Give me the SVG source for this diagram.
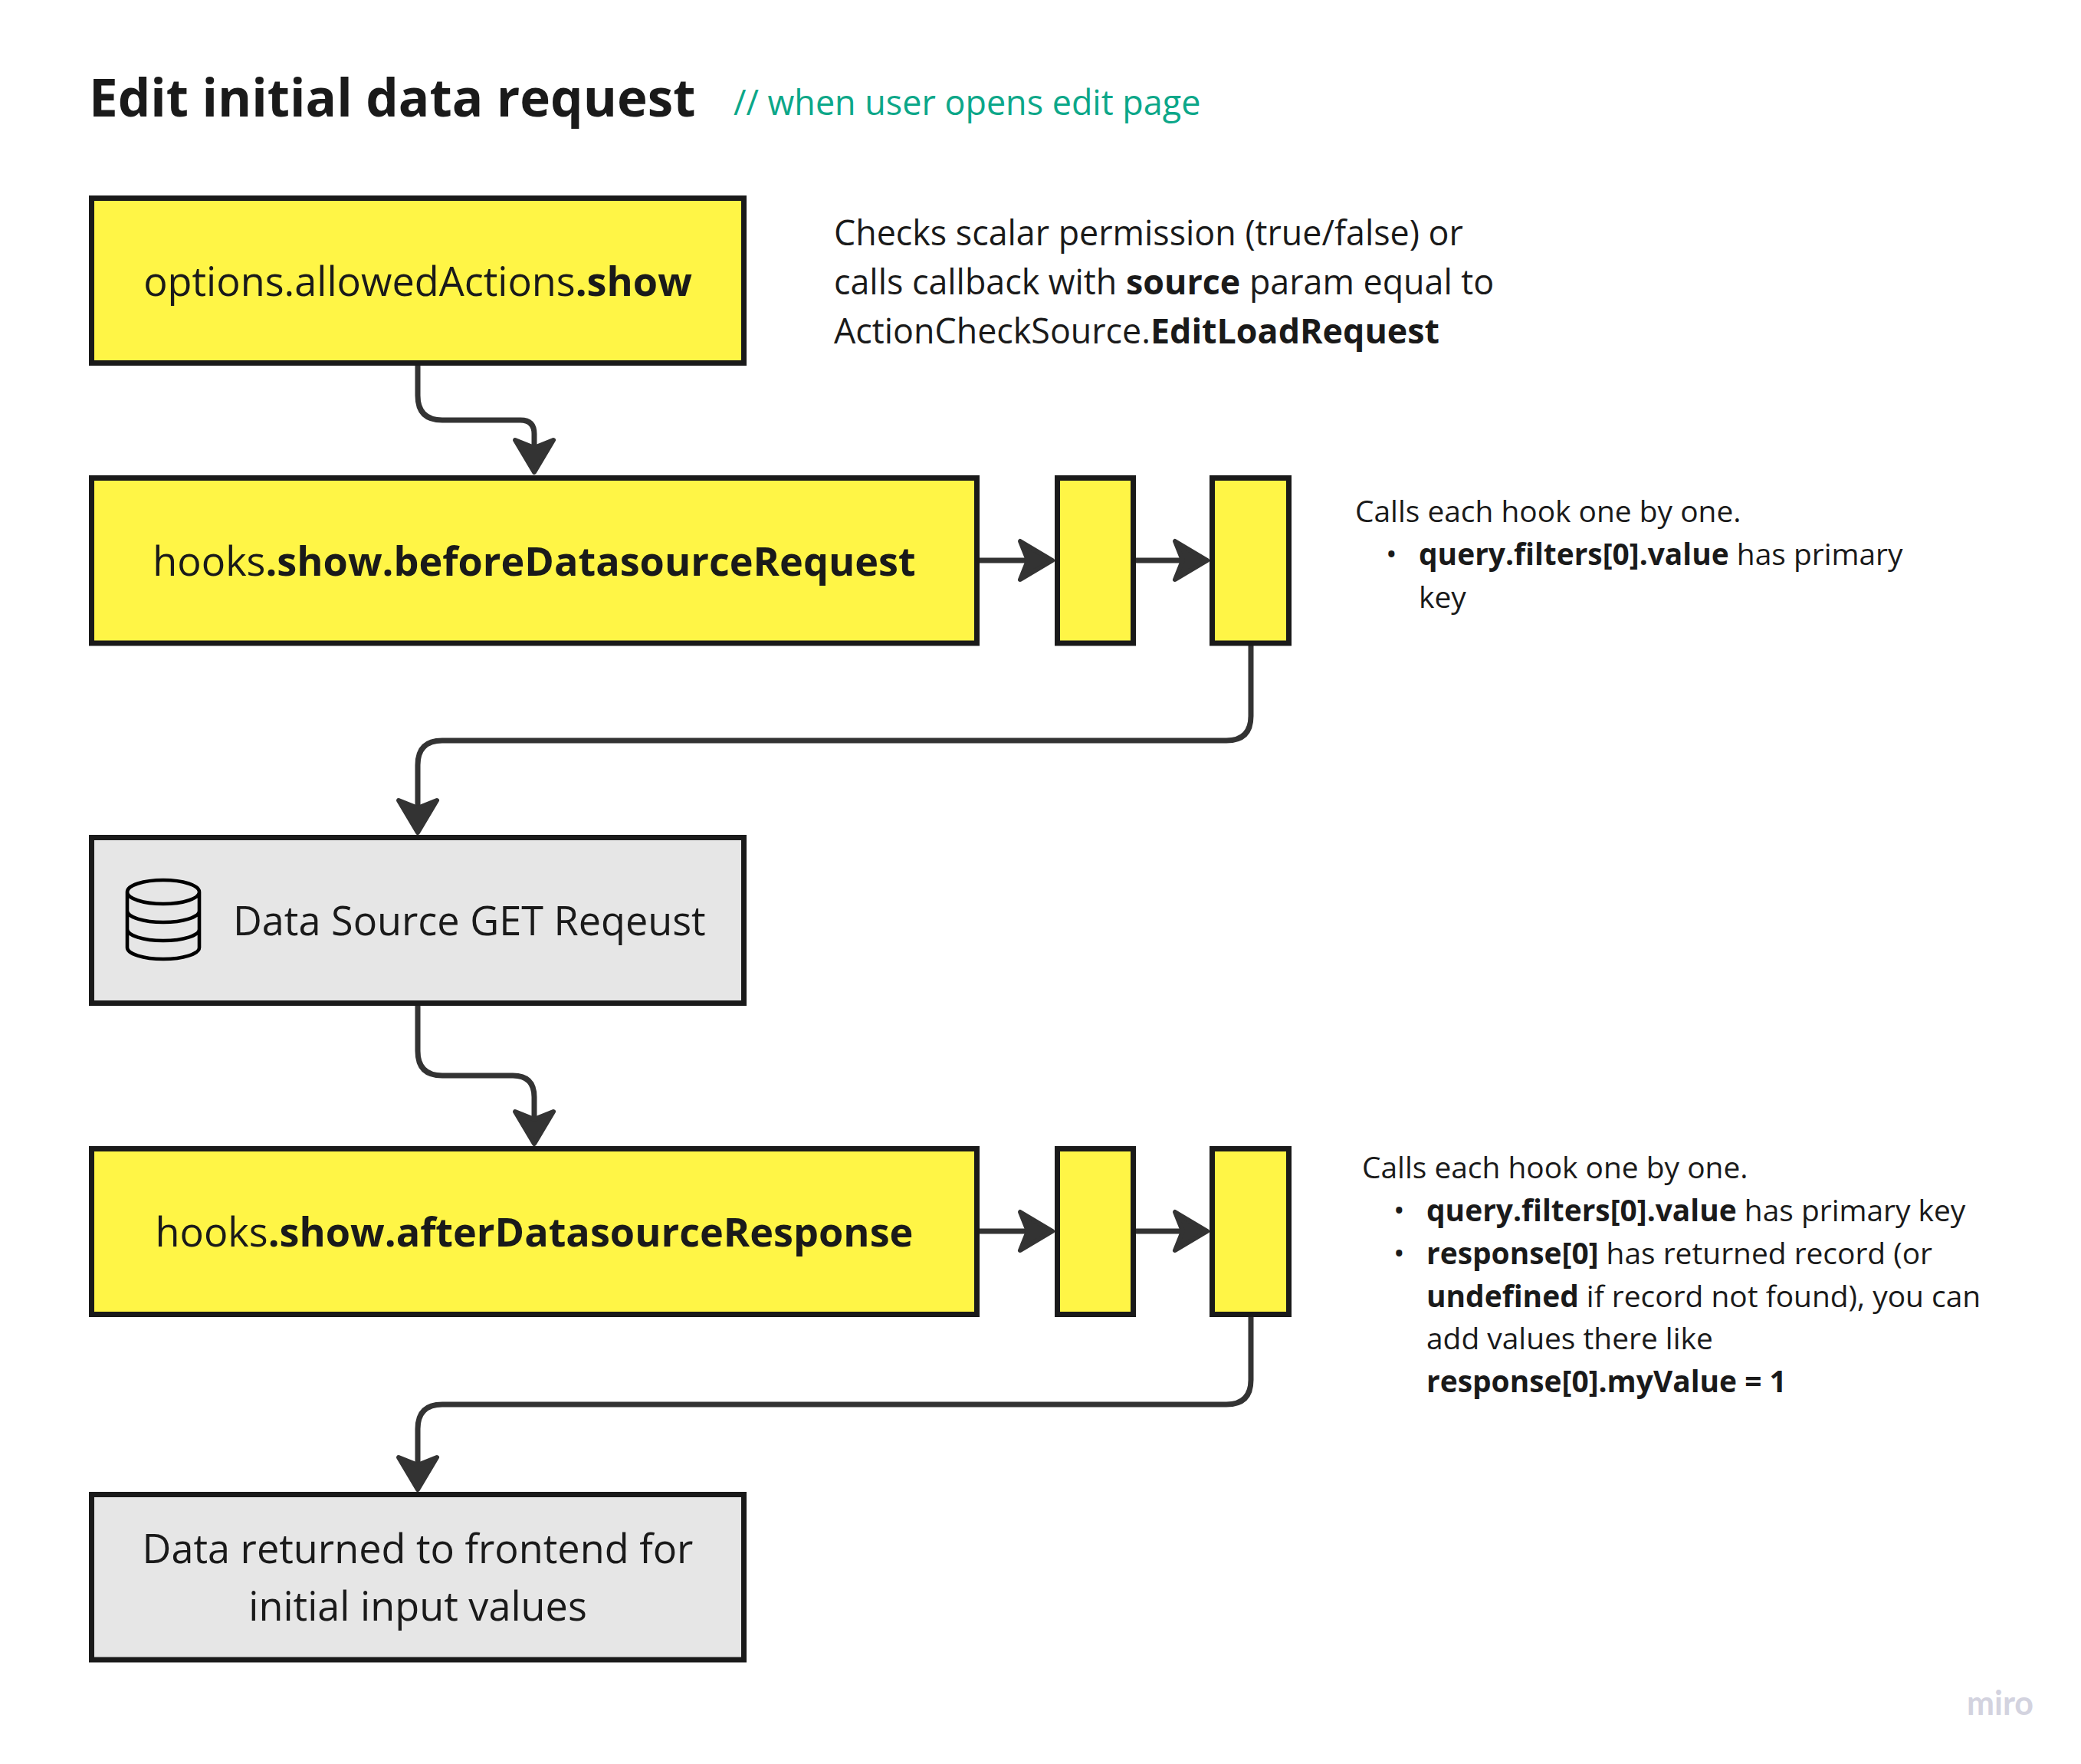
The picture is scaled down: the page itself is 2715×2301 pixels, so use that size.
<svg xmlns="http://www.w3.org/2000/svg" width="2715" height="2301" viewBox="0 0 2715 2301">
<style>
text{font-family:"Open Sans","Noto Sans","Liberation Sans",sans-serif;fill:#1a1a1a}
.b{font-weight:700}
.box{stroke:#1a1a1a;stroke-width:7}
.y{fill:#fff546}
.g{fill:#e6e6e6}
.n{font-size:52.2px;text-anchor:middle}
.d{font-size:44.8px}
.s{font-size:38.9px}
.c{fill:none;stroke:#333;stroke-width:7}
.i{fill:none;stroke:#000;stroke-width:4.600}
</style>
<defs><marker id="a" markerUnits="userSpaceOnUse" markerWidth="60" markerHeight="64" refX="30" refY="32" orient="auto"><path d="M47 32L5 7L15 32L5 57Z" fill="#333" stroke="#333" stroke-width="6" stroke-linejoin="round"/></marker></defs>
<rect width="2715" height="2301" fill="#fff"/>
<g id="title"><text x="116" y="152" font-size="67.300" class="b">Edit initial data request</text></g>
<g id="subtitle"><text x="957" y="150" font-size="44.900" style="fill:#0ca789">// when user opens edit page</text></g>
<g id="connectors">
<path class="c" marker-end="url(#a)" d="M545 477V516Q545 548 577 548H679Q697 548 697 566V599"/>
<path class="c" marker-end="url(#a)" d="M1278 731H1356"/>
<path class="c" marker-end="url(#a)" d="M1482 731H1558"/>
<path class="c" marker-end="url(#a)" d="M1632 842V934Q1632 966 1600 966H577Q545 966 545 998V1069"/>
<path class="c" marker-end="url(#a)" d="M545 1312V1371Q545 1403 577 1403H669Q697 1403 697 1431V1475"/>
<path class="c" marker-end="url(#a)" d="M1278 1606H1356"/>
<path class="c" marker-end="url(#a)" d="M1482 1606H1558"/>
<path class="c" marker-end="url(#a)" d="M1632 1718V1800Q1632 1832 1600 1832H577Q545 1832 545 1864V1926"/>
</g>
<g id="node-allowed"><rect class="box y" x="119.500" y="258.500" width="851" height="215"/><text class="n" x="545" y="386">options.allowedActions<tspan class="b">.show</tspan></text></g>
<g id="node-before"><rect class="box y" x="119.500" y="623.500" width="1155" height="215.500"/><text class="n" x="697" y="751">hooks<tspan class="b">.show.beforeDatasourceRequest</tspan></text></g>
<g id="node-before-1"><rect class="box y" x="1379.500" y="623.500" width="99" height="215.500"/></g>
<g id="node-before-2"><rect class="box y" x="1581.500" y="623.500" width="100" height="215.500"/></g>
<g id="node-source"><rect class="box g" x="119.500" y="1092.500" width="851" height="216"/>
<path class="i" d="M166 1163.500V1236A47 15 0 0 0 260 1236V1163.500M166 1163.500A47 15.500 0 0 1 260 1163.500A47 15.500 0 0 1 166 1163.500ZM166 1188A47 15 0 0 0 260 1188M166 1212A47 15 0 0 0 260 1212"/>
<text class="n" x="304" y="1220" style="text-anchor:start">Data Source GET Reqeust</text></g>
<g id="node-after"><rect class="box y" x="119.500" y="1498.500" width="1155" height="216"/><text class="n" x="697" y="1626">hooks<tspan class="b">.show.afterDatasourceResponse</tspan></text></g>
<g id="node-after-1"><rect class="box y" x="1379.500" y="1498.500" width="99" height="216"/></g>
<g id="node-after-2"><rect class="box y" x="1581.500" y="1498.500" width="100" height="216"/></g>
<g id="node-return"><rect class="box g" x="119.500" y="1949.500" width="851" height="215.500"/><text class="n" x="545" y="2039">Data returned to frontend for</text><text class="n" x="545" y="2114">initial input values</text></g>
<g id="note-1"><text class="d" x="1088" y="320">Checks scalar permission (true/false) or</text><text class="d" x="1088" y="384">calls callback with <tspan class="b">source</tspan> param equal to</text><text class="d" x="1088" y="448">ActionCheckSource.<tspan class="b">EditLoadRequest</tspan></text></g>
<g id="note-2"><text class="s" x="1768" y="681">Calls each hook one by one.</text><text class="s" x="1808" y="737">•</text><text class="s" x="1851" y="737"><tspan class="b">query.filters[0].value</tspan> has primary</text><text class="s" x="1851" y="793">key</text></g>
<g id="note-3"><text class="s" x="1777" y="1537">Calls each hook one by one.</text><text class="s" x="1818" y="1593">•</text><text class="s" x="1861" y="1593"><tspan class="b">query.filters[0].value</tspan> has primary key</text><text class="s" x="1818" y="1649">•</text><text class="s" x="1861" y="1649"><tspan class="b">response[0]</tspan> has returned record (or</text><text class="s" x="1861" y="1705"><tspan class="b">undefined</tspan> if record not found), you can</text><text class="s" x="1861" y="1760">add values there like</text><text class="s" x="1861" y="1816"><tspan class="b">response[0].myValue = 1</tspan></text></g>
<g id="watermark"><text x="2566" y="2237" font-size="43" textLength="87" style="fill:#d3d3df;font-family:Lato,'Noto Sans',sans-serif;font-weight:700">miro</text></g>
</svg>
